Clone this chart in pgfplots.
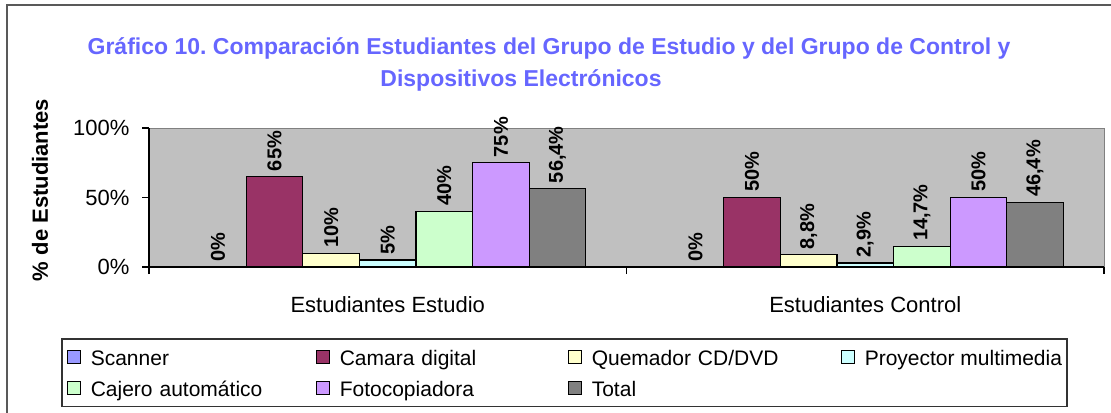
\documentclass[border=0pt]{standalone}
\usepackage{pgfplots}
\pgfplotsset{compat=1.18}
\usepackage{pgfplotstable}
\usepackage{fontspec}
\setmainfont{Liberation Sans}
\frenchspacing
\definecolor{titleblue}{RGB}{102,102,255}
\definecolor{cScan}{RGB}{153,153,255}
\definecolor{cCam}{RGB}{153,51,102}
\definecolor{cQue}{RGB}{255,255,204}
\definecolor{cPro}{RGB}{204,255,255}
\definecolor{cCaj}{RGB}{204,255,204}
\definecolor{cFot}{RGB}{204,153,255}
\definecolor{cTot}{RGB}{128,128,128}
\definecolor{plotgray}{RGB}{192,192,192}

\pgfplotstableread{
x scanner camara quemador proyector cajero foto total
0 0 65 10 5 40 75 56.4
1 0 50 8.8 2.9 14.7 50 46.4
}\datatable

\newcommand{\mainfs}{\fontsize{22bp}{26bp}\selectfont}

\begin{document}
\begin{tikzpicture}
\draw[line width=1.5bp, black!65] (7bp,-5bp) rectangle (1130bp,-430bp);
\node[anchor=base, font=\bfseries\fontsize{23bp}{28bp}\selectfont, text=titleblue] at (549bp,-54bp)
  {Gráfico 10. Comparación Estudiantes del Grupo de Estudio y del Grupo de Control y};
\node[anchor=base, font=\bfseries\fontsize{23bp}{28bp}\selectfont, text=titleblue] at (521bp,-86bp)
  {Dispositivos Electrónicos};
\begin{axis}[
  at={(149bp,-267bp)}, anchor=south west,
  scale only axis, width=955bp, height=139bp,
  xmin=-0.5, xmax=1.5, ymin=0, ymax=100,
  /pgf/number format/assume math mode=true,
  axis background/.style={fill=plotgray, draw=black!50, line width=1bp},
  axis x line*=bottom, axis y line*=left,
  axis line style={line width=1.5bp, black},
  ybar=0pt, bar width=0.1185,
  ytick={0,50,100}, yticklabels={0\%,50\%,100\%},
  xtick={0,1}, xticklabels={Estudiantes Estudio, Estudiantes Control},
  tick align=outside,
  major tick length=7bp,
  tick style={line width=1.5bp, black},
  x tick style={draw=none},
  extra x ticks={-0.5,0.5,1.5}, extra x tick labels={},
  extra x tick style={x tick style={draw=black, line width=1.5bp}, major tick length=7bp},
  tick label style={font=\mainfs},
  yticklabel style={xshift=-9bp},
  xticklabel style={anchor=base, yshift=-38bp},
  ylabel={\% de Estudiantes},
  ylabel style={font=\bfseries\fontsize{22bp}{26bp}\selectfont, at={(axis description cs:-0.114,0.554)}, anchor=center},
  every axis plot/.append style={draw=black, line width=1.2bp},
  nodes near coords={\pgfmathprintnumber[use comma,fixed,precision=1]{\pgfplotspointmeta}\%},
  every node near coord/.append style={rotate=90, anchor=west, font=\bfseries\fontsize{20bp}{23bp}\selectfont, inner sep=5bp, text=black},
  area legend,
  legend image code/.code={\draw[#1, line width=1bp] (0bp,-6bp) rectangle (13bp,7bp);},
  legend columns=4,
  legend cell align=left,
  legend style={at={(axis description cs:-0.0921,-0.5108)}, anchor=north west,
    draw=black!80, line width=1.5bp, fill=white, font=\fontsize{21bp}{25bp}\selectfont,
    inner xsep=5bp, inner ysep=7bp, row sep=8bp,
    /tikz/every odd column/.append style={column sep=10bp},
    /tikz/column 2/.style={nodes={text width=225bp, inner xsep=0pt, text height=18bp, text depth=1bp}},
    /tikz/column 4/.style={nodes={text width=228bp, inner xsep=0pt, text height=18bp, text depth=1bp}},
    /tikz/column 6/.style={nodes={text width=249bp, inner xsep=0pt, text height=18bp, text depth=1bp}},
    /tikz/column 8/.style={nodes={inner xsep=0pt, text height=18bp, text depth=1bp}},
  },
]
\addplot[fill=cScan] table[x=x, y=scanner] {\datatable};
\addlegendentry{Scanner}
\addplot[fill=cCam] table[x=x, y=camara] {\datatable};
\addlegendentry{Camara digital}
\addplot[fill=cQue] table[x=x, y=quemador] {\datatable};
\addlegendentry{Quemador CD/DVD}
\addplot[fill=cPro] table[x=x, y=proyector] {\datatable};
\addlegendentry{Proyector multimedia}
\addplot[fill=cCaj] table[x=x, y=cajero] {\datatable};
\addlegendentry{Cajero automático}
\addplot[fill=cFot] table[x=x, y=foto] {\datatable};
\addlegendentry{Fotocopiadora}
\addplot[fill=cTot] table[x=x, y=total] {\datatable};
\addlegendentry{Total}
\end{axis}
\pgfresetboundingbox
\useasboundingbox (0bp,0bp) rectangle (1111bp,-413bp);
\end{tikzpicture}
\end{document}
